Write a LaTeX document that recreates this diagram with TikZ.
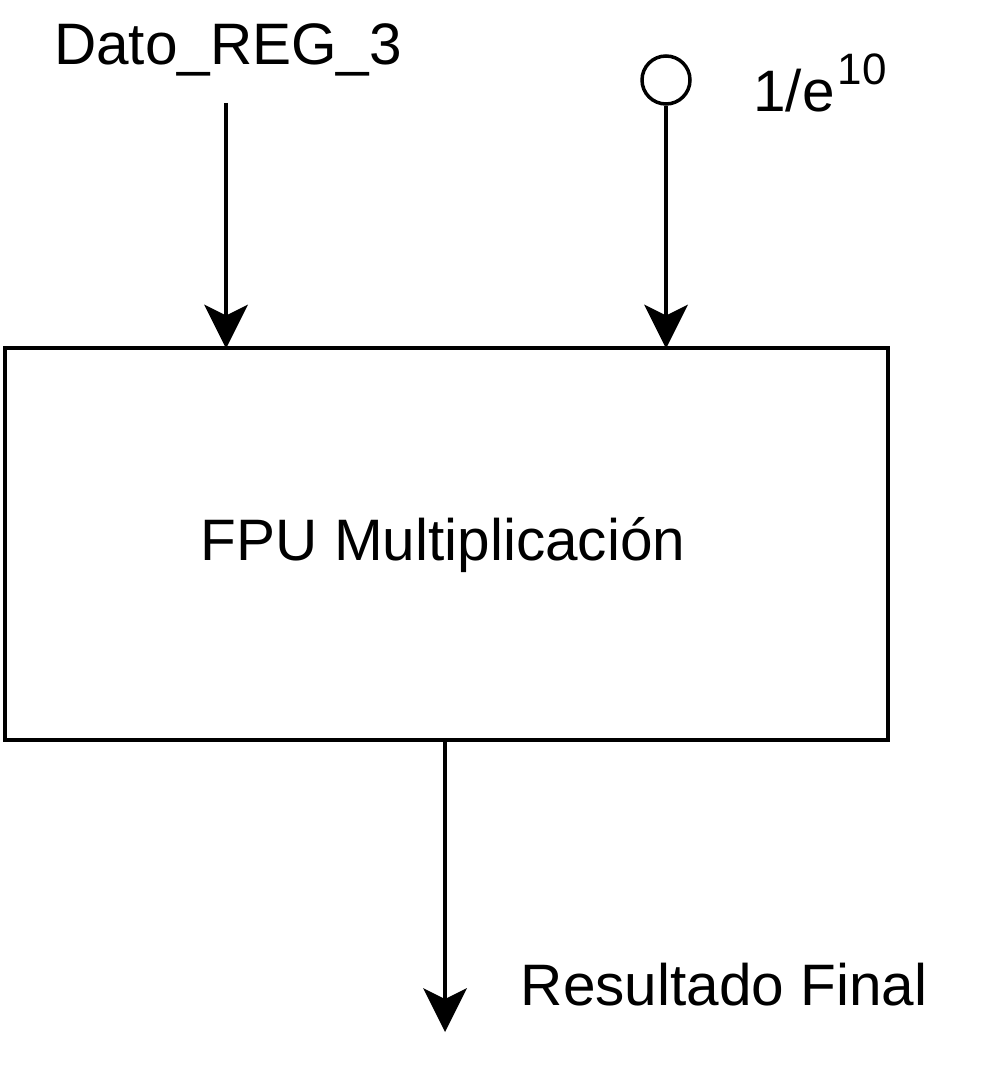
\documentclass[tikz,border=0pt]{standalone}
\usepackage{fontspec}
\setmainfont{Liberation Sans}
\usetikzlibrary{arrows.meta}
\begin{document}
\begin{tikzpicture}[x=1pt,y=-1pt,
  conn/.style={line width=3.5pt,-{Stealth[length=44pt,width=44pt,inset=11pt,line width=0pt]}},
  lbl/.style={font=\fontsize{58.5}{64}\selectfont,inner sep=0pt}]
\useasboundingbox (0,0) rectangle (1005,1075);
\node[draw,line width=3.5pt,minimum width=883pt,minimum height=392pt,inner sep=0pt] (fpu) at (446.5,544) {};
\node[lbl] (fput) at (443,545) {FPU Multiplicación};
\node[lbl] (dato) at (228,50) {Dato\_REG\_3};
\coordinate (datoend) at (226,103);
\node[draw,circle,line width=3.5pt,minimum size=48pt,inner sep=0pt] (c) at (666,80) {};
\node[lbl,anchor=base west] (e) at (753,112) {1/e\kern3pt\raisebox{27pt}{\fontsize{44}{48}\selectfont 10}};
\coordinate (res) at (445,1032);
\node[lbl] (rest) at (724,985) {Resultado Final};
\draw[conn] (datoend) -- (226,348.5);
\draw[conn] (c.south) -- (666,348.5);
\draw[conn] (445,741.5) -- (res);
\end{tikzpicture}
\end{document}
